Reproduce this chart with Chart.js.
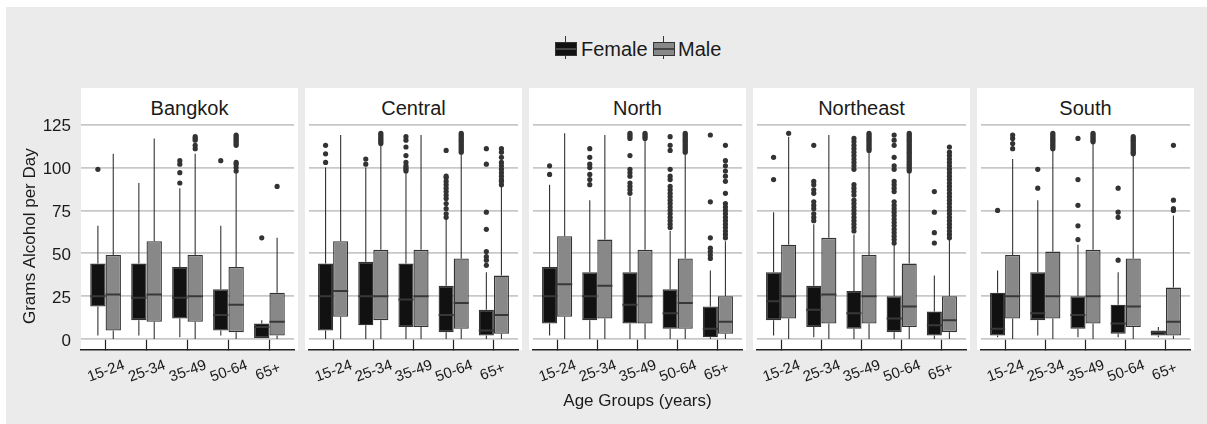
<!DOCTYPE html>
<html>
<head>
<meta charset="utf-8">
<script src="https://cdn.jsdelivr.net/npm/chart.js@4.4.0/dist/chart.umd.min.js"></script>
<style>
  html, body { margin: 0; padding: 0; background: #fff; }
  body { width: 1207px; height: 424px; position: relative; overflow: hidden;
         font-family: 'Liberation Sans', Arial, sans-serif; color: #1a1a1a; }
  #bg { position: absolute; left: 6px; top: 7px; right: 0; bottom: 0; background: #ebebeb; }
  .panel { position: absolute; top: 88px; height: 262px; width: 217px; background: #fff; }
  .strip { position: absolute; top: 88px; height: 34px; width: 217px; text-align: center;
           font-size: 20px; line-height: 30px; padding-top: 5px; box-sizing: border-box; }
  canvas { position: absolute; top: 88px; }
  .key { position: absolute; top: 36px; width: 22px; height: 23px; }
  .key::before { content: ''; position: absolute; left: 10px; top: 0; width: 1px; height: 23px; background: #333; }
  .key b { position: absolute; left: 0; top: 6px; width: 20px; height: 12px; border: 1px solid #333; }
  .key b::after { content: ''; position: absolute; left: 0; right: 0; top: 5px; height: 2px; background: #444; }
  .lbl { position: absolute; top: 37px; font-size: 20px; line-height: 24px; }
  #xtitle { position: absolute; left: 81px; width: 1113px; top: 391px; text-align: center;
            font-size: 17px; line-height: 20px; }
</style>
</head>
<body>
<div id="bg"></div>
<div id="panels"></div>

<span class="key" style="left:555px"><b style="background:#111"></b></span>
<span class="lbl" style="left:581px">Female</span>
<span class="key" style="left:653px"><b style="background:#888"></b></span>
<span class="lbl" style="left:678px">Male</span>
<div id="xtitle">Age Groups (years)</div>

<script>
const regions = ['Bangkok', 'Central', 'North', 'Northeast', 'South'];
const ageGroups = ['15-24', '25-34', '35-49', '50-64', '65+'];
const yTicks = [0, 25, 50, 75, 100, 125];

// each age group: [lower whisker, Q1, median, Q3, upper whisker]
const bangkokF = [[2, 19, 25, 44, 66], [2, 11, 24, 44, 91], [1, 12, 24, 42, 88], [2, 5, 14, 29, 66], [0, 0, 7, 9, 11]];
const bangkokM = [[0, 5, 26, 49, 108], [0, 10, 26, 57, 117], [0, 10, 25, 49, 108], [0, 4, 20, 42, 97], [0, 2, 10, 27, 59]];
const centralF = [[0, 5, 25, 44, 100], [0, 8, 25, 45, 100], [0, 7, 23, 44, 97], [0, 4, 14, 31, 70], [0, 2, 5, 17, 39]];
const centralM = [[0, 13, 28, 57, 119], [0, 11, 25, 52, 113], [0, 7, 25, 52, 119], [0, 6, 21, 47, 108], [0, 3, 14, 37, 89]];
const northF = [[2, 9, 25, 42, 90], [0, 11, 25, 39, 81], [0, 9, 20, 39, 83], [0, 6, 15, 29, 63], [0, 1, 6, 19, 40]];
const northM = [[0, 13, 32, 60, 120], [0, 12, 31, 58, 119], [0, 9, 25, 52, 116], [0, 6, 21, 47, 108], [0, 3, 10, 25, 57]];
const northeastF = [[2, 11, 22, 39, 74], [1, 7, 17, 31, 67], [0, 6, 15, 28, 61], [0, 4, 12, 25, 55], [0, 2, 8, 16, 37]];
const northeastM = [[0, 12, 25, 55, 118], [0, 9, 26, 59, 119], [0, 9, 25, 49, 109], [0, 7, 19, 44, 97], [0, 4, 11, 25, 58]];
const southF = [[1, 2, 6, 27, 40], [2, 11, 15, 39, 81], [1, 6, 14, 25, 55], [1, 3, 9, 20, 39], [1, 2, 4, 5, 7]];
const southM = [[0, 12, 25, 49, 105], [0, 12, 25, 51, 110], [0, 9, 25, 52, 114], [0, 7, 19, 47, 107], [0, 2, 10, 30, 72]];

// outliers per age group
const bangkokFOut = [[99], [], [91, 97, 102, 104], [104], [59]];
const bangkokMOut = [[], [], [111, 113, 116, 117, 118], [98, 100, 102, 103, 113, 114, 115, 116, 117, 118, 119], [89]];
const centralFOut = [[103, 108, 113], [102, 105], [98, 99, 100, 101, 103, 107, 112, 116, 118],
  [71, 73, 76, 79, 82, 84, 86, 88, 90, 92, 94, 95, 110], [43, 46, 48, 51, 64, 74, 102, 111]];
const centralMOut = [[], [114, 115, 116, 117, 118, 119, 120], [],
  [109, 110, 111, 112, 113, 114, 115, 116, 117, 118, 119, 120], [90, 92, 93, 95, 97, 99, 101, 103, 106, 109, 111]];
const northFOut = [[96, 101], [90, 93, 96, 100, 102, 106, 111], [85, 87, 89, 91, 95, 97, 99, 107, 117, 118, 119, 120],
  [65, 67, 69, 71, 73, 75, 77, 79, 81, 83, 85, 87, 89, 93, 95, 99, 110, 113, 118], [47, 49, 51, 53, 59, 80, 119]];
const northMOut = [[], [], [117, 118, 119, 120], [109, 110, 111, 112, 113, 114, 115, 116, 117, 118, 119, 120],
  [59, 61, 63, 65, 67, 69, 71, 73, 75, 77, 79, 85, 92, 95, 98, 101, 104, 113]];
const northeastFOut = [[93, 106], [69, 71, 73, 76, 78, 80, 85, 87, 90, 92, 113],
  [63, 65, 67, 69, 71, 73, 75, 77, 79, 81, 84, 86, 88, 90, 99, 101, 103, 105, 107, 109, 111, 113, 115, 117],
  [56, 58, 60, 62, 64, 66, 68, 70, 72, 74, 76, 78, 80, 86, 88, 90, 92, 99, 101, 106, 113, 116, 119], [56, 62, 74, 86]];
const northeastMOut = [[120], [], [110, 111, 112, 113, 114, 115, 116, 117, 118, 119, 120],
  [98, 99, 100, 101, 102, 103, 104, 105, 106, 107, 108, 109, 110, 111, 112, 113, 114, 115, 116, 117, 118, 119, 120],
  [59, 61, 63, 65, 67, 69, 71, 73, 75, 77, 79, 81, 83, 85, 87, 89, 91, 93, 95, 97, 99, 101, 103, 105, 107, 109, 112]];
const southFOut = [[75], [88, 99], [58, 66, 78, 93, 117], [46, 71, 74, 88], []];
const southMOut = [[111, 114, 117, 119], [111, 112, 113, 114, 115, 116, 117, 118, 119, 120],
  [115, 116, 117, 118, 119, 120], [108, 109, 110, 111, 112, 113, 114, 115, 116, 117, 118], [75, 76, 81, 113]];

const femaleStats = [bangkokF, centralF, northF, northeastF, southF];
const maleStats = [bangkokM, centralM, northM, northeastM, southM];
const femaleOut = [bangkokFOut, centralFOut, northFOut, northeastFOut, southFOut];
const maleOut = [bangkokMOut, centralMOut, northMOut, northeastMOut, southMOut];

Chart.defaults.font.family = "'Liberation Sans', Arial, sans-serif";
Chart.defaults.color = '#1a1a1a';

const panelLeft = [81, 305, 529, 753, 977];
const panelWidth = 217;
const yAxisWidth = 81;
const HALF = 0.1875; // half width of one dodged box in category units

// box = floating bar, whiskers/median = line segments, outliers = scatter
function boxDatasets(stats, outliers, shift, fill) {
    const whisk = [], med = [], out = [];
    stats.forEach((s, i) => {
        const x = i + 1 + shift;
        whisk.push({x, y: s[0]}, {x, y: s[1]}, {x, y: null}, {x, y: s[3]}, {x, y: s[4]}, {x, y: null});
        med.push({x: x - HALF, y: s[2]}, {x: x + HALF, y: s[2]}, {x: x + HALF, y: null});
        outliers[i].forEach(v => out.push({x, y: v}));
    });
    return [
        {
            type: 'bar', data: stats.map((s, i) => ({x: i + 1, y: [s[1], s[3]]})),
            backgroundColor: fill, borderColor: '#333', borderWidth: 1.3, borderSkipped: false,
            categoryPercentage: 0.75, barPercentage: 1, order: 3
        },
        {type: 'line', data: whisk, borderColor: '#333', borderWidth: 1.1, pointRadius: 0, order: 4},
        {type: 'line', data: med, borderColor: '#383838', borderWidth: 2, pointRadius: 0, order: 2},
        {type: 'scatter', data: out, backgroundColor: '#333', borderWidth: 0, pointRadius: 2.6, order: 1}
    ];
}

const panelsEl = document.getElementById('panels');

regions.forEach((region, idx) => {
    const panel = document.createElement('div');
    panel.className = 'panel';
    panel.style.left = panelLeft[idx] + 'px';
    panelsEl.appendChild(panel);

    const strip = document.createElement('div');
    strip.className = 'strip';
    strip.style.left = panelLeft[idx] + 'px';
    strip.textContent = region;
    panelsEl.appendChild(strip);

    const canvas = document.createElement('canvas');
    const first = idx === 0;
    const w = first ? yAxisWidth + panelWidth : panelWidth;
    canvas.width = w;
    canvas.height = 304;
    canvas.style.left = (first ? 0 : panelLeft[idx]) + 'px';
    canvas.style.width = w + 'px';
    canvas.style.height = '304px';
    panelsEl.appendChild(canvas);

    new Chart(canvas, {
        type: 'bar',
        data: {
            datasets: [
                ...boxDatasets(femaleStats[idx], femaleOut[idx], -HALF, '#111111'),
                ...boxDatasets(maleStats[idx], maleOut[idx], HALF, '#888888')
            ]
        },
        options: {
            responsive: false,
            animation: false,
            devicePixelRatio: 1,
            layout: {padding: {top: 35, left: 0, right: 0, bottom: 0}},
            plugins: {legend: {display: false}, tooltip: {enabled: false}},
            scales: {
                x: {
                    type: 'linear',
                    min: 0.4,
                    max: 5.6,
                    offset: false,
                    afterBuildTicks: s => {
                        s.ticks = ageGroups.map((g, i) => ({value: i + 1}));
                        s.min = 0.4;
                        s.max = 5.6;
                    },
                    afterFit: s => {
                        s.height = 42.7;
                        s.paddingLeft = 0;
                        s.paddingRight = 0;
                    },
                    grid: {
                        display: true, offset: false, drawOnChartArea: false, drawTicks: true,
                        tickLength: -10, tickColor: '#222', tickWidth: 1.2
                    },
                    border: {display: true, color: '#222', width: 1.4},
                    ticks: {
                        autoSkip: false,
                        minRotation: 20,
                        maxRotation: 20,
                        padding: 17,
                        labelOffset: 18.5,
                        font: {size: 15},
                        color: '#1a1a1a',
                        callback: (v, i) => ageGroups[i].padEnd(5)
                    }
                },
                y: {
                    min: -6,
                    max: 126,
                    afterBuildTicks: s => {
                        s.ticks = yTicks.map(v => ({value: v}));
                        s.min = -6;
                        s.max = 126;
                    },
                    afterFit: s => {
                        s.width = first ? yAxisWidth : 0;
                        s.paddingTop = 0;
                        s.paddingBottom = 0;
                    },
                    grid: {color: '#c8c8c8', lineWidth: 1.8, drawTicks: false},
                    border: {display: false},
                    ticks: {
                        display: first,
                        font: {size: 17},
                        color: '#1a1a1a',
                        padding: 10,
                        labelOffset: 2
                    },
                    title: {
                        display: first,
                        text: 'Grams Alcohol per Day',
                        font: {size: 17},
                        color: '#1a1a1a',
                        padding: {top: 20, bottom: 0}
                    }
                }
            }
        }
    });
});
</script>
</body>
</html>
